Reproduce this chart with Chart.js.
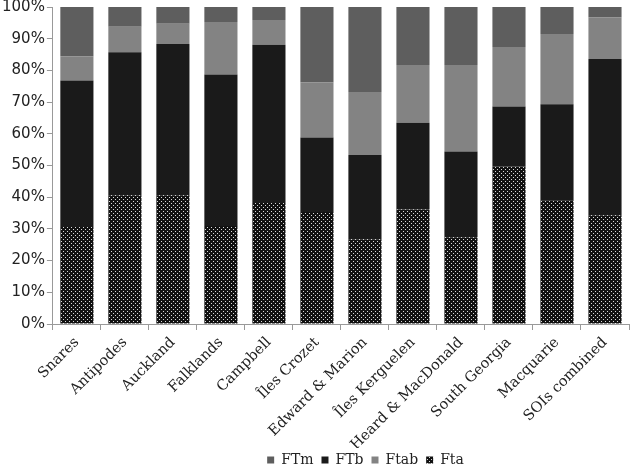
<!DOCTYPE html>
<html>
<head>
<meta charset="utf-8">
<script src="https://cdn.jsdelivr.net/npm/chart.js@4/dist/chart.umd.min.js"></script>
<style>
  html, body { margin: 0; padding: 0; background: #fff; }
  #wrap { width: 633px; height: 470px; }
</style>
</head>
<body>
<div id="wrap"><canvas id="chart"></canvas></div>
<script>
// categories and segment shares (%)
const sites = ['Snares', 'Antipodes', 'Auckland', 'Falklands', 'Campbell', 'Îles Crozet',
    'Edward & Marion', 'Îles Kerguelen', 'Heard & MacDonald', 'South Georgia', 'Macquarie', 'SOIs combined'];
const fta  = [30.6, 40.6, 40.6, 30.9, 38.2, 35.3, 26.7, 36.1, 27.4, 49.7, 39.0, 34.3];
const ftb  = [46.2, 45.1, 47.7, 47.8, 49.9, 23.5, 26.6, 27.4, 27.0, 18.9, 30.3, 49.3];
const ftab = [7.7, 8.1, 6.4, 16.6, 7.8, 17.5, 19.9, 18.2, 27.3, 18.8, 22.2, 13.2];
const ftm  = [15.5, 6.2, 5.3, 4.7, 4.1, 23.7, 26.8, 18.3, 18.3, 12.6, 8.5, 3.2];
const yTicks = [0, 10, 20, 30, 40, 50, 60, 70, 80, 90, 100];
const legendOrder = ['FTm', 'FTb', 'Ftab', 'Fta'];

// dotted fill for Fta
function dotPattern() {
    const c = document.createElement('canvas');
    c.width = 4; c.height = 4;
    const g = c.getContext('2d');
    g.fillStyle = '#111';
    g.fillRect(0, 0, 4, 4);
    g.fillStyle = '#d8d8d8';
    g.fillRect(1, 1, 1, 1);
    g.fillRect(3, 3, 1, 1);
    return g.createPattern(c, 'repeat');
}

const serif = "'DejaVu Serif', 'Liberation Serif', serif";

// legend sits a bit right of centre and close to the labels in the original
const placeLegend = {
    id: 'placeLegend',
    afterLayout(chart) {
        const lg = chart.legend;
        if (!lg) return;
        lg.left += 51; lg.right += 51;
        const h = lg.bottom - lg.top;
        lg.top = 445; lg.bottom = 445 + h;
    }
};

new Chart(document.getElementById('chart'), {
    type: 'bar',
    data: {
        labels: sites,
        datasets: [
            { label: 'Fta', data: fta, backgroundColor: dotPattern() },
            { label: 'FTb', data: ftb, backgroundColor: '#1a1a1a' },
            { label: 'Ftab', data: ftab, backgroundColor: '#838383' },
            { label: 'FTm', data: ftm, backgroundColor: '#5e5e5e' }
        ]
    },
    plugins: [placeLegend],
    options: {
        responsive: true, maintainAspectRatio: false, animation: false,
        barPercentage: 0.69, categoryPercentage: 1,
        layout: { padding: { top: 0, right: 4, left: 0, bottom: 0 } },
        scales: {
            x: {
                stacked: true,
                afterFit: (scale) => { scale.height = 124; },
                grid: { offset: true, drawOnChartArea: false, tickLength: 6, color: '#999' },
                border: { color: '#999' },
                ticks: { minRotation: 45, maxRotation: 45, color: '#222', font: { family: serif, size: 14.5 }, padding: 4 }
            },
            y: {
                stacked: true, min: 0, max: 100,
                afterBuildTicks: (axis) => { axis.ticks = yTicks.map(v => ({ value: v })); },
                afterFit: (scale) => { scale.paddingTop = 7; },
                grid: { drawOnChartArea: false, tickLength: 6, color: '#999' },
                border: { color: '#999' },
                ticks: { color: '#222', font: { family: "'DejaVu Sans', sans-serif", size: 15 }, padding: 2,
                    callback: (v) => v + '%' }
            }
        },
        plugins: {
            tooltip: { enabled: false },
            legend: {
                position: 'bottom',
                maxHeight: 22,
                labels: {
                    boxWidth: 7, boxHeight: 7, padding: 8, color: '#222',
                    font: { family: serif, size: 14 },
                    sort: (a, b) => legendOrder.indexOf(a.text) - legendOrder.indexOf(b.text)
                }
            }
        }
    }
});
</script>
</body>
</html>
